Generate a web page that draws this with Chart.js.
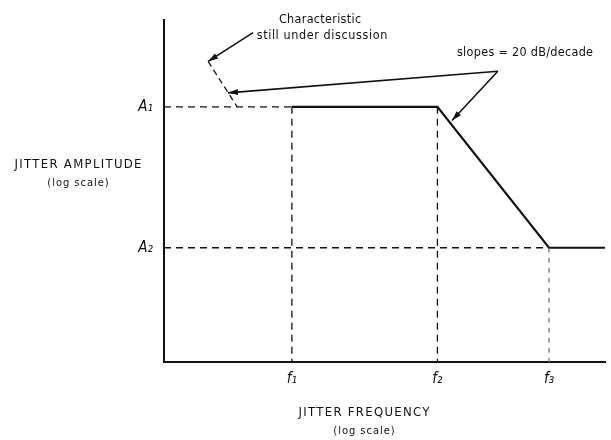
<!DOCTYPE html>
<html>
<head>
<meta charset="utf-8">
<script src="https://cdn.jsdelivr.net/npm/chart.js@4"></script>
<style>
    html, body { margin: 0; padding: 0; background: #fff; }
    #wrap { width: 611px; height: 440px; }
</style>
</head>
<body>
<div id="wrap"><canvas id="jitter-chart"></canvas></div>
<script>
// positions in log units, 0..100 on both axes
const freqTicks = [29, 62, 87.3]
const freqLabels = ["f₁", "f₂", "f₃"]
const ampTicks = [33.4, 74.6]
const ampLabels = ["A₂", "A₁"]

// tolerance mask
const maskX = [29, 62, 87.3, 100]
const maskY = [74.6, 74.6, 33.4, 33.4]

// characteristic still under discussion
const openX = [10, 16.6]
const openY = [87.9, 74.6]

// arrows: [fromX, fromY, toX, toY]
const arrows = [
    [20.2, 96.3, 10.0, 87.9],
    [75.7, 85.0, 14.5, 78.7],
    [75.7, 85.0, 65.3, 70.6],
]

const ink = "#111"
const font = "'DejaVu Sans Condensed', 'Liberation Sans Narrow', sans-serif"

const pts = (xs, ys) => xs.map((x, i) => ({x, y: ys[i]}))

const dashed = (data, color = ink, dash = [7, 5]) => ({
    data, borderColor: color, borderWidth: 1.3, borderDash: dash,
    pointRadius: 0, fill: false, tension: 0
})

const datasets = [
    dashed([{x: 0, y: ampTicks[1]}, {x: freqTicks[0], y: ampTicks[1]}]),
    dashed([{x: 0, y: ampTicks[0]}, {x: freqTicks[2], y: ampTicks[0]}]),
    dashed([{x: freqTicks[0], y: ampTicks[1]}, {x: freqTicks[0], y: 0}]),
    dashed([{x: freqTicks[1], y: ampTicks[1]}, {x: freqTicks[1], y: 0}]),
    dashed([{x: freqTicks[2], y: ampTicks[0]}, {x: freqTicks[2], y: 0}], "#777", [5, 5]),
    dashed(pts(openX, openY), ink, [6, 4]),
    {
        data: pts(maskX, maskY), borderColor: ink, borderWidth: 2.2,
        pointRadius: 0, fill: false, tension: 0
    },
    ...arrows.map(a => ({
        data: [{x: a[0], y: a[1]}, {x: a[2], y: a[3]}],
        borderColor: ink, borderWidth: 1.6, pointRadius: 0, fill: false, arrow: true
    }))
]

function text(c, str, x, y, size, spacing = 0) {
    c.font = `${size}px ${font}`
    c.letterSpacing = `${spacing}px`
    // letterSpacing adds trailing space, shift to keep centred
    c.fillText(str, x + spacing / 2, y)
}

const annotate = {
    id: "annotate",
    afterDatasetsDraw(chart) {
        const c = chart.ctx
        const {x: sx, y: sy} = chart.scales
        c.save()
        c.fillStyle = ink

        // arrow heads
        chart.data.datasets.forEach(ds => {
            if (!ds.arrow) return
            const [p, q] = ds.data
            const x1 = sx.getPixelForValue(p.x), y1 = sy.getPixelForValue(p.y)
            const x2 = sx.getPixelForValue(q.x), y2 = sy.getPixelForValue(q.y)
            const ang = Math.atan2(y2 - y1, x2 - x1)
            const len = 10, w = 3
            c.beginPath()
            c.moveTo(x2, y2)
            c.lineTo(x2 - len * Math.cos(ang) + w * Math.sin(ang), y2 - len * Math.sin(ang) - w * Math.cos(ang))
            c.lineTo(x2 - len * Math.cos(ang) - w * Math.sin(ang), y2 - len * Math.sin(ang) + w * Math.cos(ang))
            c.closePath()
            c.fill()
        })

        c.textAlign = "center"
        c.textBaseline = "middle"
        text(c, "Characteristic", 320, 20, 12.5, 0.3)
        text(c, "still under discussion", 322, 36, 12.5, 0.6)
        text(c, "slopes = 20 dB/decade", 525, 53, 12.5, 0.3)

        text(c, "JITTER AMPLITUDE", 78, 165, 13, 1.3)
        text(c, "(log scale)", 78, 183, 11, 1)

        text(c, "JITTER FREQUENCY", 364, 413, 13, 1.3)
        text(c, "(log scale)", 364, 431, 11, 1)
        c.restore()
    }
}

new Chart(document.getElementById("jitter-chart"), {
    type: "line",
    data: {datasets},
    plugins: [annotate],
    options: {
        responsive: true,
        maintainAspectRatio: false,
        animation: false,
        layout: {padding: {left: 0, right: 6, top: 15, bottom: 0}},
        scales: {
            x: {
                type: "linear",
                min: 0,
                max: 100,
                afterBuildTicks: s => { s.ticks = freqTicks.map(v => ({value: v})) },
                afterFit: s => { s.height = 78 },
                ticks: {
                    autoSkip: false,
                    maxRotation: 0,
                    padding: 8,
                    color: ink,
                    font: {family: font, size: 15, style: "italic"},
                    callback: (v, i) => freqLabels[i]
                },
                grid: {display: true, drawOnChartArea: false, drawTicks: false},
                border: {display: true, color: ink, width: 2}
            },
            y: {
                type: "linear",
                min: 0,
                max: 100,
                afterBuildTicks: s => { s.ticks = ampTicks.map(v => ({value: v})) },
                afterFit: s => { s.width = 164 },
                ticks: {
                    autoSkip: false,
                    padding: 11,
                    color: ink,
                    font: {family: font, size: 15, style: "italic"},
                    callback: (v, i) => ampLabels[i]
                },
                grid: {display: true, drawOnChartArea: false, drawTicks: false},
                border: {display: true, color: ink, width: 2}
            }
        },
        plugins: {
            legend: {display: false},
            tooltip: {enabled: false}
        }
    }
})
</script>
</body>
</html>
